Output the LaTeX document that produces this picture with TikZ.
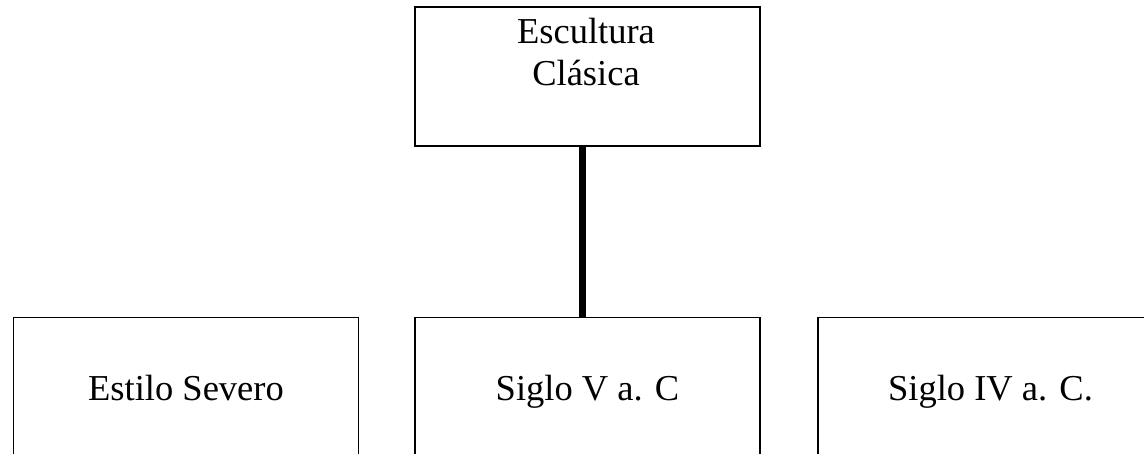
\documentclass[tikz,border=0pt]{standalone}
\usepackage{fontspec}
\setmainfont{Liberation Serif}
\begin{document}
\begin{tikzpicture}[x=1pt,y=-1pt,
  caja/.style={draw,line width=1.5pt,minimum width=345pt,minimum height=139pt,
    inner sep=0pt,font=\fontsize{36.5}{42}\selectfont,text height=30pt,text depth=4pt}]
  \useasboundingbox (0,0) rectangle (1144,453);
  \clip (0,0) rectangle (1144,453);
  \node[caja] (escultura) at (587.5,76.5) {};
  \node[anchor=base,align=center,font=\fontsize{36.5}{42}\selectfont] (titulo) at (586,85) {Escultura\\Clásica};
  \node[caja] (severo) at (186,387) {Estilo Severo};
  \node[caja] (sigloV) at (587.5,387) {Siglo V a. C};
  \node[caja] (sigloIV) at (990.5,387) {Siglo IV a. C.};
  \draw[line width=7pt] ([xshift=-5pt]escultura.south) -- ([xshift=-5pt]sigloV.north);
\end{tikzpicture}
\end{document}
